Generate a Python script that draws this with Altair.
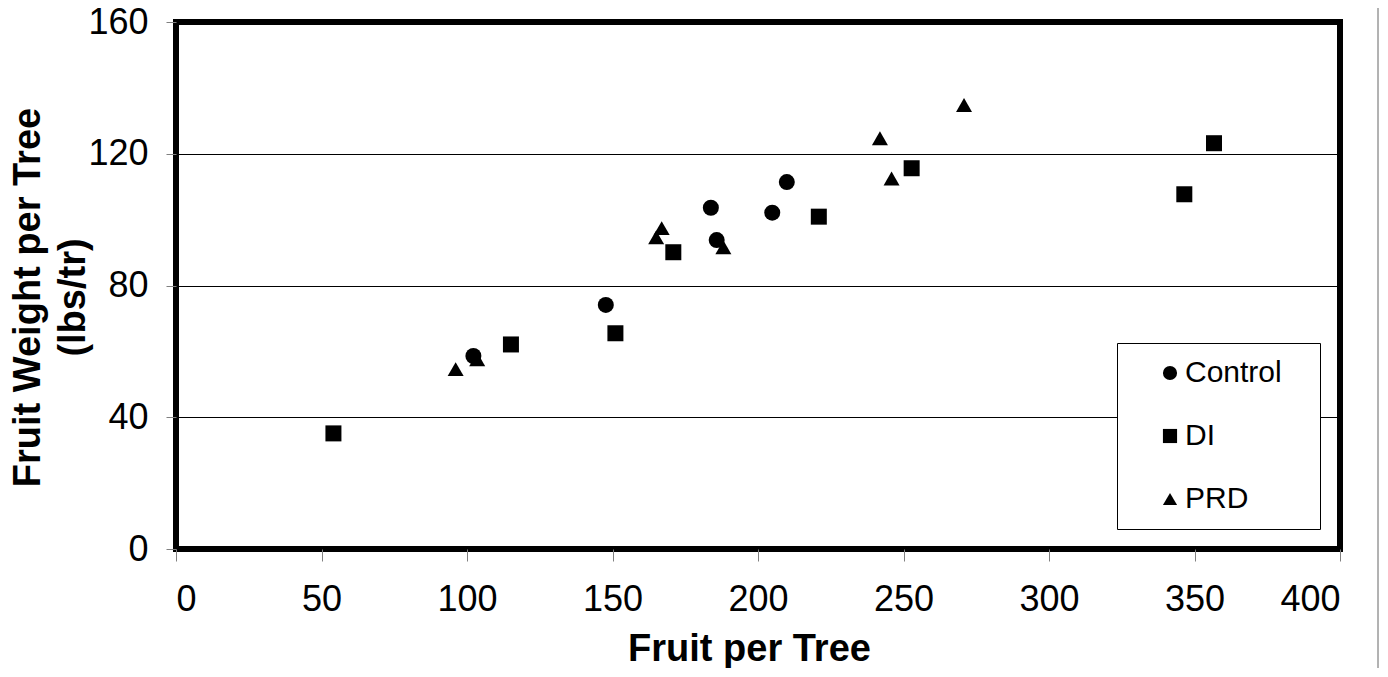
import altair as alt
import pandas as pd

# Data
control_x = [102.2, 147.7, 183.8, 185.8, 204.9, 209.9]
control_y = [58.6, 74.1, 103.6, 93.8, 102.1, 111.4]

di_x = [54.1, 115.1, 151.0, 170.9, 220.9, 252.8, 346.5, 356.7]
di_y = [35.1, 62.1, 65.5, 90.1, 100.9, 115.6, 107.7, 123.2]

prd_x = [96.1, 103.5, 165.0, 166.9, 188.1, 241.9, 245.9, 270.8]
prd_y = [54.6, 57.6, 94.6, 97.4, 91.6, 124.7, 112.5, 134.8]

series = ["Control", "DI", "PRD"]
shapes = ["circle", "square", "triangle-up"]
x_ticks = [0, 50, 100, 150, 200, 250, 300, 350, 400]
y_ticks = [0, 40, 80, 120, 160]

rows = []
for name, xs, ys in [("Control", control_x, control_y), ("DI", di_x, di_y), ("PRD", prd_x, prd_y)]:
    for a, b in zip(xs, ys):
        rows.append({"fruit": a, "weight": b, "series": name})
df = pd.DataFrame(rows)

FONT = "Liberation Sans"

points = alt.Chart(df).mark_point(filled=True, size=256, opacity=1, color="black").encode(
    x=alt.X("fruit:Q",
            scale=alt.Scale(domain=[0, 400], nice=False, zero=True),
            axis=alt.Axis(values=x_ticks, title="Fruit per Tree", grid=False, domain=False,
                          tickColor="#808080", tickSize=12, tickWidth=1,
                          labelFontSize=36, labelFont=FONT, labelColor="black", labelPadding=21,
                          titleFontSize=38, titleFont=FONT, titleFontWeight="bold", titleColor="black",
                          titleX=573, titleY=111, titleBaseline="alphabetic", titleAlign="center")),
    y=alt.Y("weight:Q",
            scale=alt.Scale(domain=[0, 160], nice=False),
            axis=alt.Axis(values=y_ticks, title=["Fruit Weight per Tree", "(lbs/tr)"],
                          grid=True, gridColor="black", gridWidth=1, domain=False,
                          tickColor="#808080", tickSize=10, tickWidth=1,
                          labelFontSize=36, labelFont=FONT, labelColor="black", labelPadding=18,
                          titleFontSize=38, titleFont=FONT, titleFontWeight="bold", titleColor="black",
                          titleAngle=270, titleX=-148, titleY=275, titleBaseline="middle",
                          titleAlign="center", titleLineHeight=45)),
    shape=alt.Shape("series:N",
                    scale=alt.Scale(domain=series, range=shapes),
                    legend=alt.Legend(title=None, orient="none", legendX=941, legendY=321,
                                      strokeColor="black", fillColor="white",
                                      padding=15, symbolSize=200, symbolFillColor="black",
                                      symbolStrokeColor="black", symbolStrokeWidth=0,
                                      symbolOffset=23, labelOffset=0,
                                      labelFontSize=30, labelFont=FONT, labelColor="black",
                                      rowPadding=33,
                                      labelExpr="datum.label + '\u00a0\u00a0\u2009\u200b'")),
)

edge = alt.Chart(pd.DataFrame({"v": [0]})).mark_rule(color="#666666", strokeWidth=1).encode(
    x=alt.value(1202), y=alt.value(-14), y2=alt.value(650)
)

chart = alt.layer(points, edge).properties(
    width=1164, height=527,
    autosize=alt.AutoSizeParams(type="none"),
    padding={"left": 168, "top": 14, "right": 40, "bottom": 119},
).configure(background="white").configure_view(stroke="black", strokeWidth=6)

chart.save("out.html", embed_options={"renderer": "svg", "actions": False})
